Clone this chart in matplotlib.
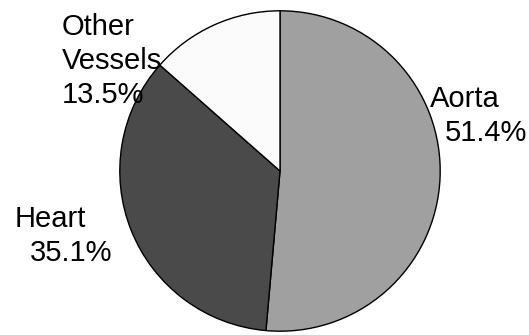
import matplotlib
matplotlib.use("Agg")
from matplotlib import pyplot as plt

labels = ["Aorta", "Heart", "Other\nVessels"]
values = [51.4, 35.1, 13.5]
colors = ["#a0a0a0", "#4a4a4a", "#fbfbfb"]

W, H = 529, 335
cx, cy, r = 280, 171, 161

# label anchor (left x, first baseline y) in pixels, and indent of the % line
label_pos = [(430, 107, 15), (15, 227, 15), (62, 35, 0)]
line_step = 34


def main():
    plt.rcParams["font.family"] = ["Liberation Sans", "DejaVu Sans"]
    fig = plt.figure(figsize=(W / 100, H / 100), dpi=100)
    ax = fig.add_axes([(cx - r) / W, (H - cy - r) / H, 2 * r / W, 2 * r / H])
    ax.pie(values, colors=colors, startangle=90, counterclock=False,
           radius=1, wedgeprops=dict(edgecolor="black", linewidth=1))
    ax.set_xlim(-1.005, 1.005)
    ax.set_ylim(-1.005, 1.005)
    ax.set_aspect("auto")
    ax.axis("off")

    for lab, val, (px, py, ind) in zip(labels, values, label_pos):
        lines = lab.split("\n") + ["%.1f%%" % val]
        for i, s in enumerate(lines):
            x0 = px + (ind if i == len(lines) - 1 else 0)
            y0 = py + i * line_step
            fig.text(x0 / W, 1 - y0 / H, s, fontsize=21, ha="left",
                     va="baseline", color="black")

    fig.savefig("out.png", dpi=100)


if __name__ == "__main__":
    main()
